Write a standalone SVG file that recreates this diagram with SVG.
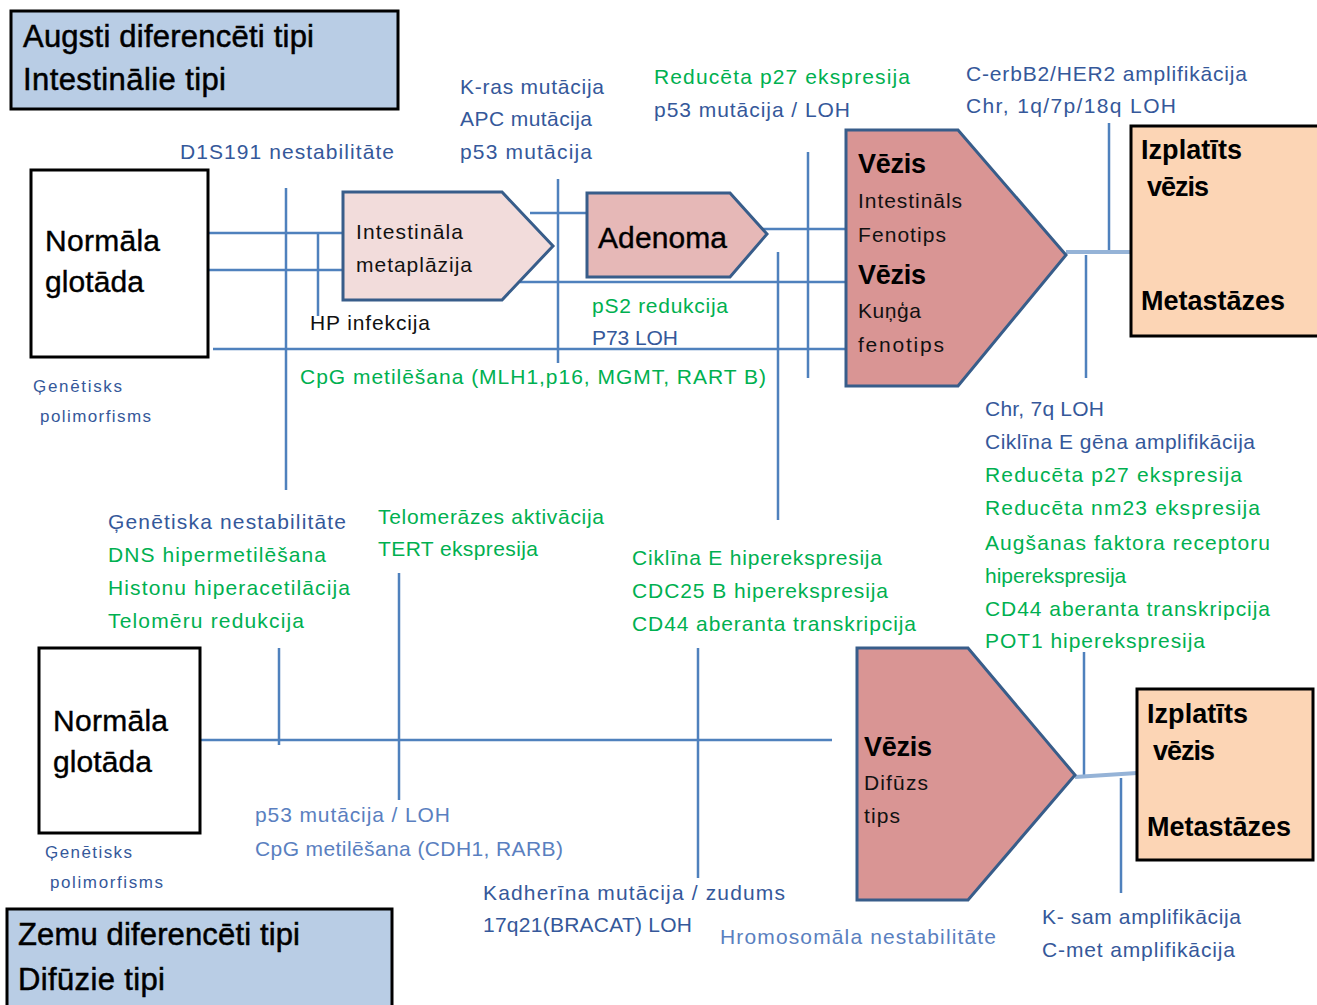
<svg xmlns="http://www.w3.org/2000/svg" width="1317" height="1005" viewBox="0 0 1317 1005">
<style>
text{font-family:"Liberation Sans",Arial,sans-serif}
.b{fill:#35589a;font-size:21px}
.bl{fill:#5a7fc0;font-size:21px}
.g{fill:#00b050;font-size:21px}
.k{fill:#111;font-size:21px}
.big{fill:#000;font-size:31px;stroke:#000;stroke-width:0.5}
.node{fill:#000;font-size:30px;stroke:#000;stroke-width:0.4}
.bold{fill:#000;font-size:27px;font-weight:bold}
.sm{fill:#35589a;font-size:17px}
.ln{stroke:#4f81bd;stroke-width:2.5;fill:none}
.lt{stroke:#95b3d7;stroke-width:4;fill:none}
.box{stroke:#000;stroke-width:3}
.pent{stroke:#385d8a;stroke-width:3}
</style>
<g id="connectors">
<path class="ln" d="M203 233H343M208 270H343M318 233V316M286 188V490M530 213H587M520 282H846M760 229H858M213 349H846M558 179V363M808 152V378M778 252V520M1109 123V252M1086 255V378"/>
<path class="lt" d="M1066 252H1131"/>
<path class="ln" d="M196 740H832M279 648V745M399 573V800M698 648V878M1084 652V775M1121 778V893"/>
<path class="lt" d="M1075 777L1137 773"/>
</g>
<g id="label-top">
<rect class="box" x="11" y="11" width="387" height="98" fill="#b9cde5"/>
<text class="big" x="23" y="47" textLength="291">Augsti diferencēti tipi</text>
<text class="big" x="23" y="90" textLength="203">Intestinālie tipi</text>
</g>
<g id="normal-top">
<rect class="box" x="31" y="170" width="177" height="187" fill="#fff"/>
<text class="node" x="45" y="251" textLength="115">Normāla</text>
<text class="node" x="45" y="292" textLength="99">glotāda</text>
</g>
<g id="metaplazija">
<polygon class="pent" points="343,192 502,192 553,246 502,300 343,300" fill="#f2dcdb"/>
<text class="k" x="356" y="239" textLength="107">Intestināla</text>
<text class="k" x="356" y="272" textLength="116">metaplāzija</text>
</g>
<g id="adenoma">
<polygon class="pent" points="587,193 730,193 767,234 730,277 587,277" fill="#e6b8b7"/>
<text class="node" x="598" y="248" textLength="129">Adenoma</text>
</g>
<g id="vezis-top">
<polygon class="pent" points="846,130 958,130 1066,255 958,386 846,386" fill="#d99594"/>
<text class="bold" x="858" y="173" textLength="68">Vēzis</text>
<text class="k" x="858" y="208" textLength="104">Intestināls</text>
<text class="k" x="858" y="242" textLength="88">Fenotips</text>
<text class="bold" x="858" y="284" textLength="68">Vēzis</text>
<text class="k" x="858" y="318" textLength="63">Kuņģa</text>
<text class="k" x="858" y="352" textLength="86">fenotips</text>
</g>
<g id="izplatits-top">
<rect class="box" x="1131" y="126" width="190" height="210" fill="#fcd5b5"/>
<text class="bold" x="1141" y="159" textLength="101">Izplatīts</text>
<text class="bold" x="1147" y="196" textLength="62">vēzis</text>
<text class="bold" x="1141" y="310" textLength="144">Metastāzes</text>
</g>
<g id="labels-top">
<text class="b" x="460" y="94" textLength="144">K-ras mutācija</text>
<text class="b" x="460" y="126" textLength="132">APC mutācija</text>
<text class="b" x="460" y="159" textLength="132">p53 mutācija</text>
<text class="b" x="180" y="159" textLength="214">D1S191 nestabilitāte</text>
<text class="g" x="654" y="84" textLength="256">Reducēta p27 ekspresija</text>
<text class="b" x="654" y="117" textLength="196">p53 mutācija / LOH</text>
<text class="b" x="966" y="81" textLength="281">C-erbB2/HER2 amplifikācija</text>
<text class="b" x="966" y="113" textLength="210">Chr, 1q/7p/18q LOH</text>
<text class="k" x="310" y="330" textLength="120">HP infekcija</text>
<text class="g" x="592" y="313" textLength="136">pS2 redukcija</text>
<text class="b" x="592" y="345" textLength="86">P73 LOH</text>
<text class="g" x="300" y="384" textLength="466">CpG metilēšana (MLH1,p16, MGMT,  RART B)</text>
<text class="sm" x="33" y="392" textLength="89">Ģenētisks</text>
<text class="sm" x="40" y="422" textLength="111">polimorfisms</text>
</g>
<g id="labels-right">
<text class="b" x="985" y="416" textLength="119">Chr, 7q LOH</text>
<text class="b" x="985" y="449" textLength="270">Ciklīna E gēna amplifikācija</text>
<text class="g" x="985" y="482" textLength="257">Reducēta p27 ekspresija</text>
<text class="g" x="985" y="515" textLength="275">Reducēta nm23 ekspresija</text>
<text class="g" x="985" y="550" textLength="285">Augšanas faktora  receptoru</text>
<text class="g" x="985" y="583">hiperekspresija</text>
<text class="g" x="985" y="616" textLength="285">CD44 aberanta transkripcija</text>
<text class="g" x="985" y="648" textLength="220">POT1 hiperekspresija</text>
</g>
<g id="labels-bottom">
<text class="b" x="108" y="529" textLength="238">Ģenētiska nestabilitāte</text>
<text class="g" x="108" y="562" textLength="218">DNS hipermetilēšana</text>
<text class="g" x="108" y="595" textLength="242">Histonu hiperacetilācija</text>
<text class="g" x="108" y="628" textLength="196">Telomēru redukcija</text>
<text class="g" x="378" y="524" textLength="226">Telomerāzes aktivācija</text>
<text class="g" x="378" y="556" textLength="160">TERT ekspresija</text>
<text class="g" x="632" y="565" textLength="250">Ciklīna E hiperekspresija</text>
<text class="g" x="632" y="598" textLength="256">CDC25 B hiperekspresija</text>
<text class="g" x="632" y="631" textLength="284">CD44 aberanta transkripcija</text>
<text class="bl" x="255" y="822" textLength="195">p53 mutācija / LOH</text>
<text class="bl" x="255" y="856" textLength="308">CpG metilēšana (CDH1, RARB)</text>
<text class="b" x="483" y="900" textLength="302">Kadherīna mutācija  / zudums</text>
<text class="b" x="483" y="932" textLength="209">17q21(BRACAT) LOH</text>
<text class="bl" x="720" y="944" textLength="276">Hromosomāla nestabilitāte</text>
<text class="b" x="1042" y="924" textLength="199">K- sam amplifikācija</text>
<text class="b" x="1042" y="957" textLength="193">C-met amplifikācija</text>
<text class="sm" x="45" y="858" textLength="87">Ģenētisks</text>
<text class="sm" x="50" y="888" textLength="113">polimorfisms</text>
</g>
<g id="normal-bottom">
<rect class="box" x="39" y="648" width="161" height="185" fill="#fff"/>
<text class="node" x="53" y="731" textLength="115">Normāla</text>
<text class="node" x="53" y="772" textLength="99">glotāda</text>
</g>
<g id="vezis-bottom">
<polygon class="pent" points="857,648 968,648 1075,775 968,900 857,900" fill="#d99594"/>
<text class="bold" x="864" y="756" textLength="68">Vēzis</text>
<text class="k" x="864" y="790" textLength="64">Difūzs</text>
<text class="k" x="864" y="823" textLength="36">tips</text>
</g>
<g id="izplatits-bottom">
<rect class="box" x="1137" y="689" width="176" height="171" fill="#fcd5b5"/>
<text class="bold" x="1147" y="723" textLength="101">Izplatīts</text>
<text class="bold" x="1153" y="760" textLength="62">vēzis</text>
<text class="bold" x="1147" y="836" textLength="144">Metastāzes</text>
</g>
<g id="label-bottom">
<rect class="box" x="7" y="909" width="385" height="100" fill="#b9cde5"/>
<text class="big" x="18" y="945" textLength="282">Zemu diferencēti tipi</text>
<text class="big" x="18" y="990" textLength="147">Difūzie tipi</text>
</g>
</svg>
